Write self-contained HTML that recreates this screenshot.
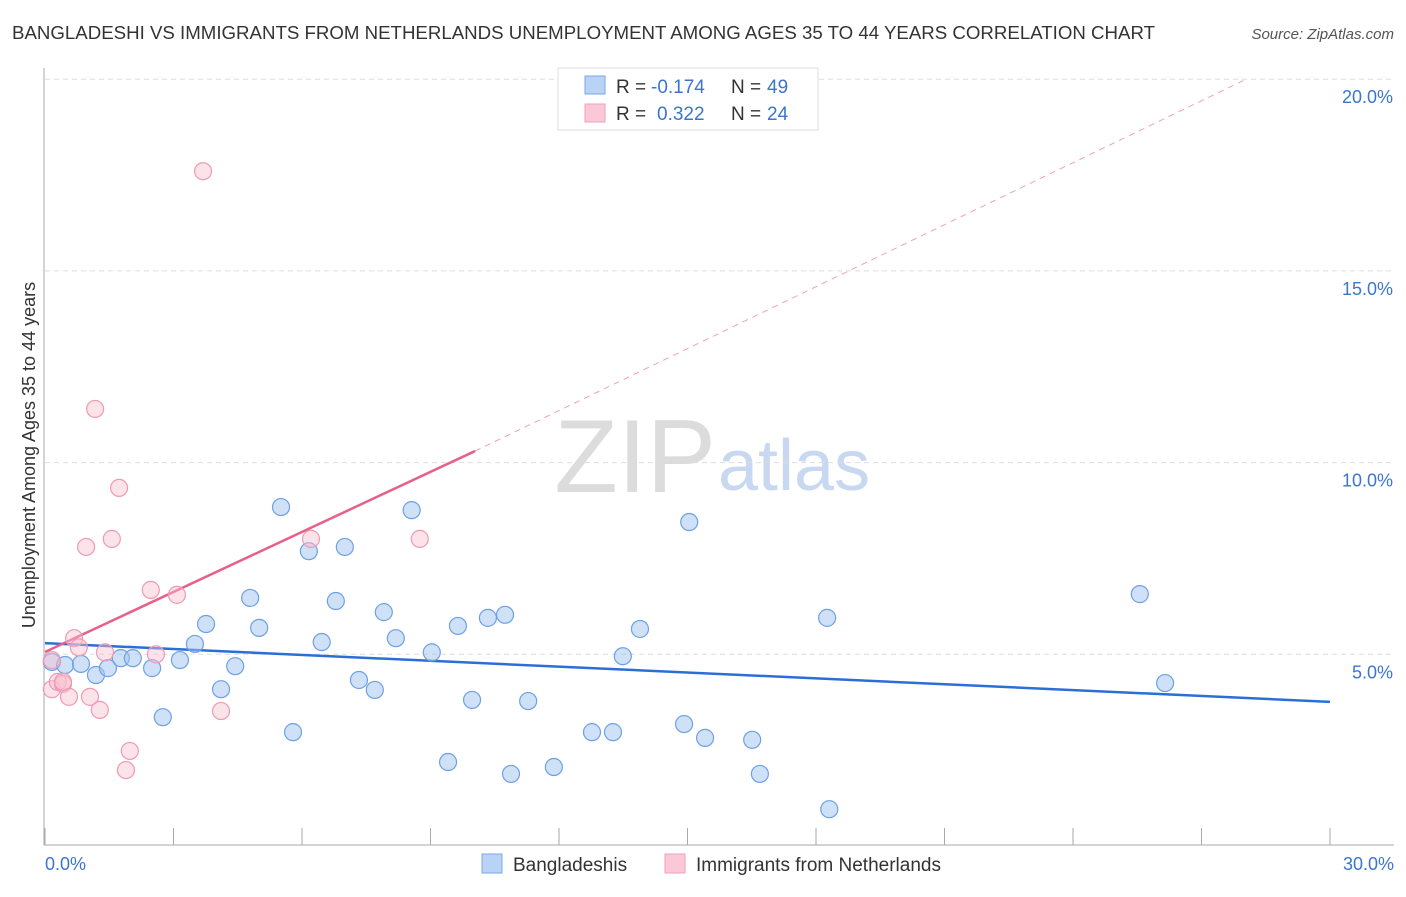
<!DOCTYPE html>
<html><head><meta charset="utf-8"><style>
body{margin:0;background:#fff;font-family:"Liberation Sans",sans-serif;}
svg text{font-family:"Liberation Sans",sans-serif;}
</style></head><body>
<svg id="chart" width="1406" height="892" xmlns="http://www.w3.org/2000/svg">
<text x="12" y="39" font-size="18" fill="#333" textLength="1143" lengthAdjust="spacingAndGlyphs">BANGLADESHI VS IMMIGRANTS FROM NETHERLANDS UNEMPLOYMENT AMONG AGES 35 TO 44 YEARS CORRELATION CHART</text>
<text x="1394" y="39" font-size="15" fill="#555" text-anchor="end" font-style="italic">Source: ZipAtlas.com</text>
<text x="716" y="492" font-size="104" fill="#dcdcdc" text-anchor="end" font-family="Liberation Serif">ZIP</text>
<text x="718" y="490" font-size="72" fill="#c8d8f0">atlas</text>
<g id="grid"></g>
<line x1="44" y1="68" x2="44" y2="845" stroke="#aaa"/>
<line x1="44" y1="845" x2="1394" y2="845" stroke="#aaa"/>
<text x="35" y="455" font-size="18" fill="#333" text-anchor="middle" transform="rotate(-90 35 455)">Unemployment Among Ages 35 to 44 years</text>
<text x="45" y="870" font-size="18" fill="#3a76d0">0.0%</text>
<text x="1394" y="870" font-size="18" fill="#3a76d0" text-anchor="end">30.0%</text>
<g id="lines"></g>
<g id="pts"></g>
<g>
<rect x="558" y="68" width="260" height="62" fill="#fff" stroke="#ddd"/>
<rect x="585" y="76" width="20" height="18" fill="#b8d3f5" stroke="#7aa8e6"/>
<rect x="585" y="104" width="20" height="18" fill="#fac8d6" stroke="#f0a0b8"/>
<text x="616" y="93" font-size="19" fill="#333">R =</text>
<text x="651" y="93" font-size="19" fill="#3a76d0">-0.174</text>
<text x="731" y="93" font-size="19" fill="#333">N =</text>
<text x="767" y="93" font-size="19" fill="#3a76d0">49</text>
<text x="616" y="120" font-size="19" fill="#333">R =</text>
<text x="657" y="120" font-size="19" fill="#3a76d0">0.322</text>
<text x="731" y="120" font-size="19" fill="#333">N =</text>
<text x="767" y="120" font-size="19" fill="#3a76d0">24</text>
</g>
<g>
<rect x="482" y="854" width="20" height="19" fill="#b8d3f5" stroke="#7aa8e6"/>
<text x="513" y="871" font-size="19" fill="#333">Bangladeshis</text>
<rect x="665" y="854" width="20" height="19" fill="#fac8d6" stroke="#f0a0b8"/>
<text x="696" y="871" font-size="19" fill="#333">Immigrants from Netherlands</text>
</g>
</svg>
<script>
const yTicks=[5,10,15,20];
const yTickLabels=["5.0%","10.0%","15.0%","20.0%"];
const xTicks=[0,3,6,9,12,15,18,21,24,27,30];
const blueX=[0.16,0.47,0.84,1.19,1.47,1.77,2.05,2.5,2.75,3.15,3.5,3.76,4.11,4.44,4.79,5.0,5.51,5.79,6.16,6.46,6.79,7.0,7.33,7.7,7.91,8.19,8.56,9.03,9.41,9.64,9.97,10.34,10.74,10.88,11.28,11.88,12.77,13.26,13.49,13.89,14.92,15.04,15.41,16.51,16.69,18.26,18.31,25.56,26.15];
const blueY=[4.80,4.72,4.75,4.46,4.64,4.90,4.90,4.64,3.36,4.85,5.27,5.79,4.09,4.69,6.47,5.69,8.84,2.97,7.69,5.32,6.39,7.80,4.33,4.07,6.10,5.42,8.76,5.05,2.19,5.74,3.81,5.95,6.03,1.88,3.78,2.06,2.97,2.97,4.95,5.66,3.18,8.45,2.82,2.77,1.88,5.95,0.96,6.57,4.25];
const pinkX=[0.16,0.3,0.42,0.56,0.68,0.79,0.96,1.05,1.17,1.28,1.4,1.56,1.73,1.89,1.98,2.47,2.59,3.08,3.69,4.11,6.21,8.75,0.16,0.42];
const pinkY=[4.09,4.28,4.23,3.89,5.42,5.18,7.80,3.89,11.4,3.55,5.05,8.01,9.34,1.98,2.48,6.68,5.0,6.55,17.6,3.52,8.01,8.01,4.85,4.28];
const blueFit=[5.29,3.76];
const pinkFit=[5.06,0.522];
const ns="http://www.w3.org/2000/svg";
const xs=v=>45+v/30*1285, ys=v=>846-v*38.34;
function mk(t,a,p){const e=document.createElementNS(ns,t);for(const k in a)e.setAttribute(k,a[k]);p.appendChild(e);return e;}
const grid=document.getElementById('grid');
yTicks.forEach((t,i)=>{
 const l=mk('line',{x1:45,x2:1394,y1:ys(t),y2:ys(t),stroke:'#ddd','stroke-dasharray':'5,4'},grid);
 
 
 const tx=mk('text',{x:1393,y:ys(t)+24,'font-size':18,fill:'#3a76d0','text-anchor':'end'},grid);
 tx.textContent=yTickLabels[i];
 
 
});
xTicks.forEach(t=>{
 const l=mk('line',{x1:xs(t),x2:xs(t),y1:828,y2:845,stroke:'#aaa'},grid);
 
 
});
const lines=document.getElementById('lines');
let bl=mk('line',{x1:xs(0),y1:ys(blueFit[0]),x2:xs(30),y2:ys(blueFit[1]),stroke:'#2a6fd6','stroke-width':2.5},lines);


const pEnd=10.04, pTop=28.0;
let pl=mk('line',{x1:xs(0),y1:ys(pinkFit[0]),x2:xs(pEnd),y2:ys(pinkFit[0]+pinkFit[1]*pEnd),stroke:'#e8608a','stroke-width':2.5},lines);


let pd=mk('line',{x1:xs(pEnd),y1:ys(pinkFit[0]+pinkFit[1]*pEnd),x2:xs(pTop),y2:ys(pinkFit[0]+pinkFit[1]*pTop+0.3),stroke:'#f0a0b8','stroke-width':1,'stroke-dasharray':'6,5'},lines);


const pts=document.getElementById('pts');
blueX.forEach((v,i)=>{
 const c=mk('circle',{cx:xs(v),cy:ys(blueY[i]),r:8.5,fill:'rgba(160,196,240,0.5)',stroke:'#6ea0e6','stroke-width':1.2},pts);
 
 
});
pinkX.forEach((v,i)=>{
 const c=mk('circle',{cx:xs(v),cy:ys(pinkY[i]),r:8.5,fill:'rgba(248,190,206,0.45)',stroke:'#ee9ab4','stroke-width':1.2},pts);
 
 
});
</script>
</body></html>
